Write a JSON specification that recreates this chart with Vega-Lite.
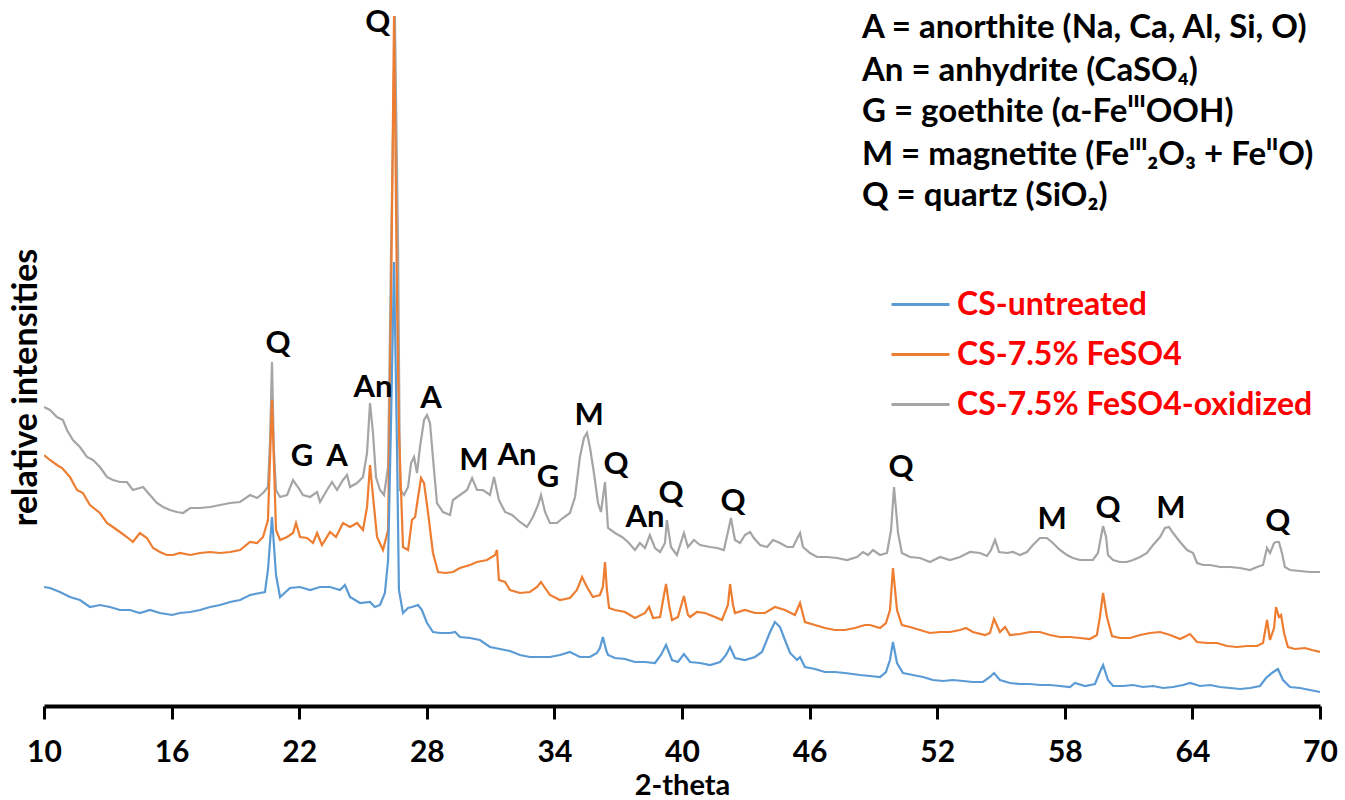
{
"$schema": "https://vega.github.io/schema/vega-lite/v6.json",
"width": 1276, "height": 690,
"autosize": {"type": "none"},
"padding": {"left": 44, "top": 16, "right": 25, "bottom": 94},
"background": "white",
"config": {"view": {"stroke": null}, "font": "Lato"},
"datasets": {
"oxidized": [
{"t":10.00,"i":299},{"t":10.28,"i":296},{"t":10.61,"i":289},{"t":10.89,"i":286},{"t":11.08,"i":276},{"t":11.36,"i":266},{"t":11.69,"i":259},{"t":12.02,"i":249},{"t":12.30,"i":246},{"t":12.63,"i":239},{"t":12.96,"i":229},{"t":13.24,"i":226},{"t":13.57,"i":224},{"t":13.90,"i":224},{"t":14.18,"i":216},{"t":14.66,"i":219},{"t":14.98,"i":211},{"t":15.31,"i":203},{"t":15.60,"i":199},{"t":15.92,"i":196},{"t":16.25,"i":194},{"t":16.54,"i":193},{"t":16.87,"i":198},{"t":17.34,"i":198},{"t":17.81,"i":199},{"t":18.28,"i":201},{"t":18.75,"i":203},{"t":19.22,"i":204},{"t":19.69,"i":211},{"t":20.02,"i":208},{"t":20.30,"i":213},{"t":20.53,"i":219},{"t":20.63,"i":266},{"t":20.72,"i":344},{"t":20.81,"i":256},{"t":20.91,"i":216},{"t":21.10,"i":209},{"t":21.43,"i":211},{"t":21.71,"i":226},{"t":21.94,"i":219},{"t":22.18,"i":211},{"t":22.51,"i":209},{"t":22.84,"i":214},{"t":22.98,"i":204},{"t":23.31,"i":216},{"t":23.54,"i":224},{"t":23.78,"i":216},{"t":24.06,"i":226},{"t":24.25,"i":231},{"t":24.39,"i":219},{"t":24.72,"i":223},{"t":25.00,"i":229},{"t":25.19,"i":253},{"t":25.33,"i":303},{"t":25.47,"i":273},{"t":25.61,"i":229},{"t":25.80,"i":216},{"t":25.99,"i":211},{"t":26.18,"i":239},{"t":26.32,"i":456},{"t":26.50,"i":690},{"t":26.65,"i":456},{"t":26.74,"i":216},{"t":26.93,"i":211},{"t":27.12,"i":219},{"t":27.26,"i":243},{"t":27.40,"i":249},{"t":27.54,"i":233},{"t":27.68,"i":259},{"t":27.87,"i":286},{"t":28.01,"i":291},{"t":28.15,"i":283},{"t":28.34,"i":236},{"t":28.48,"i":203},{"t":28.76,"i":194},{"t":29.09,"i":191},{"t":29.23,"i":206},{"t":29.56,"i":211},{"t":29.89,"i":216},{"t":30.13,"i":228},{"t":30.36,"i":216},{"t":30.64,"i":216},{"t":30.97,"i":211},{"t":31.16,"i":229},{"t":31.39,"i":206},{"t":31.68,"i":194},{"t":32.01,"i":191},{"t":32.38,"i":184},{"t":32.71,"i":179},{"t":32.99,"i":189},{"t":33.23,"i":201},{"t":33.37,"i":211},{"t":33.56,"i":194},{"t":33.79,"i":183},{"t":34.12,"i":183},{"t":34.40,"i":188},{"t":34.73,"i":193},{"t":34.97,"i":209},{"t":35.20,"i":249},{"t":35.39,"i":268},{"t":35.53,"i":273},{"t":35.67,"i":259},{"t":35.86,"i":233},{"t":36.05,"i":203},{"t":36.19,"i":194},{"t":36.38,"i":224},{"t":36.52,"i":178},{"t":36.85,"i":173},{"t":37.18,"i":169},{"t":37.46,"i":164},{"t":37.79,"i":156},{"t":38.02,"i":163},{"t":38.26,"i":158},{"t":38.49,"i":171},{"t":38.73,"i":158},{"t":38.97,"i":154},{"t":39.20,"i":163},{"t":39.29,"i":186},{"t":39.48,"i":159},{"t":39.76,"i":151},{"t":40.09,"i":173},{"t":40.28,"i":159},{"t":40.56,"i":166},{"t":40.85,"i":161},{"t":41.32,"i":159},{"t":41.65,"i":158},{"t":41.97,"i":156},{"t":42.16,"i":174},{"t":42.30,"i":188},{"t":42.49,"i":166},{"t":42.73,"i":163},{"t":42.96,"i":171},{"t":43.20,"i":174},{"t":43.38,"i":168},{"t":43.67,"i":161},{"t":44.00,"i":159},{"t":44.28,"i":166},{"t":44.61,"i":163},{"t":44.94,"i":159},{"t":45.22,"i":159},{"t":45.45,"i":169},{"t":45.55,"i":173},{"t":45.69,"i":159},{"t":46.02,"i":153},{"t":46.35,"i":149},{"t":46.82,"i":149},{"t":47.29,"i":148},{"t":47.76,"i":146},{"t":48.23,"i":149},{"t":48.51,"i":154},{"t":48.75,"i":151},{"t":48.98,"i":156},{"t":49.31,"i":151},{"t":49.64,"i":153},{"t":49.83,"i":176},{"t":49.97,"i":219},{"t":50.16,"i":173},{"t":50.34,"i":153},{"t":50.72,"i":149},{"t":51.19,"i":148},{"t":51.66,"i":144},{"t":52.13,"i":149},{"t":52.60,"i":146},{"t":53.07,"i":149},{"t":53.54,"i":154},{"t":54.01,"i":153},{"t":54.34,"i":150},{"t":54.53,"i":156},{"t":54.72,"i":166},{"t":54.91,"i":154},{"t":55.28,"i":153},{"t":55.56,"i":154},{"t":55.89,"i":151},{"t":56.22,"i":154},{"t":56.50,"i":161},{"t":56.83,"i":168},{"t":57.16,"i":168},{"t":57.44,"i":163},{"t":57.77,"i":156},{"t":58.10,"i":151},{"t":58.38,"i":148},{"t":58.71,"i":146},{"t":59.04,"i":146},{"t":59.32,"i":146},{"t":59.56,"i":153},{"t":59.70,"i":169},{"t":59.80,"i":180},{"t":59.94,"i":169},{"t":60.03,"i":151},{"t":60.27,"i":146},{"t":60.59,"i":144},{"t":60.92,"i":144},{"t":61.21,"i":146},{"t":61.54,"i":149},{"t":61.86,"i":153},{"t":62.15,"i":161},{"t":62.48,"i":169},{"t":62.71,"i":178},{"t":62.90,"i":179},{"t":63.09,"i":173},{"t":63.42,"i":164},{"t":63.75,"i":156},{"t":64.03,"i":153},{"t":64.22,"i":143},{"t":64.50,"i":141},{"t":64.83,"i":141},{"t":65.30,"i":139},{"t":65.77,"i":139},{"t":66.24,"i":138},{"t":66.71,"i":136},{"t":67.04,"i":139},{"t":67.32,"i":141},{"t":67.51,"i":158},{"t":67.65,"i":153},{"t":67.84,"i":163},{"t":67.93,"i":164},{"t":68.07,"i":164},{"t":68.21,"i":153},{"t":68.35,"i":139},{"t":68.59,"i":136},{"t":69.06,"i":135},{"t":69.53,"i":134},{"t":70.00,"i":134}
],
"feso4": [
{"t":10.00,"i":251},{"t":10.28,"i":246},{"t":10.61,"i":241},{"t":10.85,"i":238},{"t":11.22,"i":229},{"t":11.55,"i":216},{"t":11.83,"i":213},{"t":12.16,"i":201},{"t":12.63,"i":193},{"t":12.96,"i":183},{"t":13.24,"i":179},{"t":13.57,"i":174},{"t":13.90,"i":169},{"t":14.18,"i":164},{"t":14.51,"i":173},{"t":14.84,"i":168},{"t":15.13,"i":158},{"t":15.45,"i":154},{"t":15.78,"i":151},{"t":16.07,"i":151},{"t":16.39,"i":153},{"t":16.87,"i":151},{"t":17.34,"i":153},{"t":17.81,"i":154},{"t":18.28,"i":153},{"t":18.75,"i":154},{"t":19.22,"i":156},{"t":19.69,"i":164},{"t":20.02,"i":163},{"t":20.30,"i":169},{"t":20.53,"i":186},{"t":20.72,"i":306},{"t":20.91,"i":176},{"t":21.10,"i":166},{"t":21.43,"i":169},{"t":21.71,"i":173},{"t":21.85,"i":183},{"t":22.04,"i":169},{"t":22.37,"i":168},{"t":22.65,"i":163},{"t":22.84,"i":173},{"t":23.07,"i":161},{"t":23.45,"i":174},{"t":23.73,"i":169},{"t":24.06,"i":183},{"t":24.39,"i":179},{"t":24.72,"i":183},{"t":25.00,"i":176},{"t":25.19,"i":199},{"t":25.33,"i":241},{"t":25.52,"i":199},{"t":25.66,"i":169},{"t":25.94,"i":156},{"t":26.18,"i":176},{"t":26.32,"i":406},{"t":26.46,"i":690},{"t":26.60,"i":406},{"t":26.69,"i":276},{"t":26.88,"i":159},{"t":27.12,"i":156},{"t":27.30,"i":186},{"t":27.45,"i":189},{"t":27.59,"i":209},{"t":27.73,"i":228},{"t":27.87,"i":223},{"t":28.06,"i":193},{"t":28.29,"i":153},{"t":28.53,"i":134},{"t":28.86,"i":133},{"t":29.23,"i":134},{"t":29.56,"i":138},{"t":30.03,"i":141},{"t":30.36,"i":144},{"t":30.83,"i":146},{"t":31.21,"i":151},{"t":31.30,"i":156},{"t":31.39,"i":126},{"t":31.68,"i":124},{"t":31.91,"i":116},{"t":32.38,"i":113},{"t":32.85,"i":114},{"t":33.18,"i":119},{"t":33.37,"i":124},{"t":33.56,"i":118},{"t":33.79,"i":111},{"t":34.26,"i":106},{"t":34.73,"i":108},{"t":35.06,"i":116},{"t":35.30,"i":129},{"t":35.53,"i":119},{"t":35.81,"i":109},{"t":36.14,"i":111},{"t":36.28,"i":119},{"t":36.38,"i":144},{"t":36.47,"i":116},{"t":36.57,"i":98},{"t":36.85,"i":96},{"t":37.32,"i":94},{"t":37.79,"i":88},{"t":38.26,"i":93},{"t":38.45,"i":99},{"t":38.64,"i":88},{"t":38.97,"i":89},{"t":39.11,"i":106},{"t":39.25,"i":122},{"t":39.39,"i":101},{"t":39.53,"i":86},{"t":39.81,"i":89},{"t":40.09,"i":110},{"t":40.28,"i":91},{"t":40.38,"i":89},{"t":40.70,"i":94},{"t":41.08,"i":93},{"t":41.55,"i":89},{"t":41.88,"i":86},{"t":42.16,"i":101},{"t":42.26,"i":122},{"t":42.40,"i":101},{"t":42.49,"i":93},{"t":42.96,"i":96},{"t":43.43,"i":93},{"t":43.90,"i":93},{"t":44.37,"i":99},{"t":44.84,"i":96},{"t":45.31,"i":91},{"t":45.55,"i":103},{"t":45.78,"i":84},{"t":46.25,"i":81},{"t":46.72,"i":78},{"t":47.19,"i":76},{"t":47.66,"i":76},{"t":48.13,"i":78},{"t":48.60,"i":81},{"t":48.84,"i":81},{"t":49.31,"i":78},{"t":49.59,"i":83},{"t":49.78,"i":96},{"t":49.92,"i":138},{"t":50.11,"i":96},{"t":50.34,"i":81},{"t":50.72,"i":79},{"t":51.19,"i":76},{"t":51.66,"i":73},{"t":52.13,"i":74},{"t":52.60,"i":74},{"t":53.07,"i":76},{"t":53.35,"i":78},{"t":53.68,"i":74},{"t":54.25,"i":71},{"t":54.48,"i":73},{"t":54.67,"i":87},{"t":54.95,"i":74},{"t":55.19,"i":79},{"t":55.42,"i":71},{"t":55.89,"i":72},{"t":56.36,"i":74},{"t":56.83,"i":74},{"t":57.30,"i":71},{"t":57.77,"i":69},{"t":58.24,"i":69},{"t":58.71,"i":68},{"t":59.18,"i":67},{"t":59.51,"i":71},{"t":59.65,"i":89},{"t":59.80,"i":113},{"t":59.98,"i":89},{"t":60.22,"i":70},{"t":60.59,"i":68},{"t":61.07,"i":68},{"t":61.54,"i":71},{"t":62.01,"i":73},{"t":62.48,"i":74},{"t":62.95,"i":71},{"t":63.42,"i":67},{"t":63.89,"i":72},{"t":64.22,"i":64},{"t":64.69,"i":63},{"t":65.16,"i":63},{"t":65.63,"i":60},{"t":66.10,"i":59},{"t":66.57,"i":60},{"t":67.04,"i":60},{"t":67.32,"i":63},{"t":67.51,"i":86},{"t":67.65,"i":66},{"t":67.84,"i":78},{"t":67.93,"i":99},{"t":68.07,"i":89},{"t":68.17,"i":91},{"t":68.31,"i":73},{"t":68.49,"i":59},{"t":68.82,"i":57},{"t":69.29,"i":58},{"t":69.62,"i":56},{"t":70.00,"i":54}
],
"untreated": [
{"t":10.00,"i":119},{"t":10.28,"i":118},{"t":10.75,"i":114},{"t":11.22,"i":109},{"t":11.69,"i":106},{"t":12.16,"i":99},{"t":12.63,"i":101},{"t":13.10,"i":99},{"t":13.57,"i":96},{"t":14.04,"i":96},{"t":14.51,"i":93},{"t":14.98,"i":96},{"t":15.45,"i":93},{"t":16.02,"i":91},{"t":16.39,"i":93},{"t":16.87,"i":94},{"t":17.34,"i":96},{"t":17.81,"i":99},{"t":18.28,"i":101},{"t":18.75,"i":104},{"t":19.22,"i":106},{"t":19.69,"i":111},{"t":20.16,"i":113},{"t":20.39,"i":114},{"t":20.53,"i":136},{"t":20.72,"i":189},{"t":20.91,"i":131},{"t":21.10,"i":109},{"t":21.57,"i":118},{"t":22.04,"i":119},{"t":22.51,"i":116},{"t":22.98,"i":119},{"t":23.45,"i":119},{"t":23.92,"i":116},{"t":24.15,"i":121},{"t":24.39,"i":109},{"t":24.86,"i":103},{"t":25.33,"i":104},{"t":25.56,"i":99},{"t":25.80,"i":101},{"t":26.03,"i":113},{"t":26.18,"i":146},{"t":26.32,"i":286},{"t":26.46,"i":444},{"t":26.60,"i":256},{"t":26.69,"i":116},{"t":26.88,"i":93},{"t":27.12,"i":98},{"t":27.30,"i":99},{"t":27.59,"i":101},{"t":27.77,"i":96},{"t":28.01,"i":83},{"t":28.29,"i":74},{"t":28.62,"i":73},{"t":29.09,"i":73},{"t":29.33,"i":74},{"t":29.56,"i":69},{"t":30.03,"i":68},{"t":30.50,"i":66},{"t":30.97,"i":59},{"t":31.44,"i":57},{"t":31.91,"i":55},{"t":32.38,"i":51},{"t":32.85,"i":49},{"t":33.32,"i":49},{"t":33.79,"i":49},{"t":34.26,"i":51},{"t":34.73,"i":54},{"t":35.20,"i":49},{"t":35.67,"i":49},{"t":36.00,"i":53},{"t":36.14,"i":58},{"t":36.28,"i":69},{"t":36.43,"i":56},{"t":36.52,"i":51},{"t":36.85,"i":48},{"t":37.32,"i":47},{"t":37.79,"i":44},{"t":38.26,"i":44},{"t":38.73,"i":43},{"t":39.01,"i":51},{"t":39.25,"i":61},{"t":39.53,"i":46},{"t":39.81,"i":44},{"t":40.09,"i":52},{"t":40.38,"i":44},{"t":40.85,"i":43},{"t":41.32,"i":41},{"t":41.79,"i":44},{"t":42.07,"i":51},{"t":42.26,"i":59},{"t":42.49,"i":48},{"t":42.96,"i":46},{"t":43.43,"i":49},{"t":43.76,"i":54},{"t":44.14,"i":74},{"t":44.37,"i":84},{"t":44.61,"i":79},{"t":44.84,"i":66},{"t":45.08,"i":53},{"t":45.41,"i":46},{"t":45.55,"i":49},{"t":45.78,"i":39},{"t":46.25,"i":37},{"t":46.72,"i":34},{"t":47.19,"i":34},{"t":47.66,"i":33},{"t":48.37,"i":31},{"t":48.84,"i":30},{"t":49.31,"i":29},{"t":49.59,"i":34},{"t":49.78,"i":46},{"t":49.92,"i":64},{"t":50.11,"i":43},{"t":50.39,"i":33},{"t":50.86,"i":31},{"t":51.33,"i":29},{"t":51.80,"i":26},{"t":52.27,"i":25},{"t":52.74,"i":26},{"t":53.21,"i":25},{"t":53.68,"i":24},{"t":54.15,"i":24},{"t":54.48,"i":29},{"t":54.67,"i":33},{"t":54.95,"i":26},{"t":55.42,"i":23},{"t":55.89,"i":22},{"t":56.36,"i":22},{"t":56.83,"i":21},{"t":57.30,"i":21},{"t":57.77,"i":20},{"t":58.24,"i":19},{"t":58.48,"i":23},{"t":58.95,"i":20},{"t":59.42,"i":22},{"t":59.65,"i":34},{"t":59.80,"i":41},{"t":60.03,"i":26},{"t":60.27,"i":20},{"t":60.74,"i":20},{"t":61.21,"i":21},{"t":61.68,"i":19},{"t":62.15,"i":20},{"t":62.62,"i":18},{"t":63.09,"i":19},{"t":63.56,"i":21},{"t":63.89,"i":23},{"t":64.36,"i":20},{"t":64.83,"i":21},{"t":65.30,"i":19},{"t":65.77,"i":18},{"t":66.24,"i":17},{"t":66.71,"i":18},{"t":67.18,"i":20},{"t":67.46,"i":28},{"t":67.74,"i":33},{"t":68.02,"i":37},{"t":68.26,"i":26},{"t":68.59,"i":19},{"t":69.06,"i":18},{"t":69.53,"i":16},{"t":70.00,"i":14}
],
"peaks": [
{"t":25.70,"i":683,"label":"Q"},{"t":21.00,"i":362,"label":"Q"},{"t":22.13,"i":249,"label":"G"},{"t":23.78,"i":249,"label":"A"},{"t":25.47,"i":318,"label":"An"},{"t":28.20,"i":307,"label":"A"},{"t":30.22,"i":245,"label":"M"},{"t":32.24,"i":250,"label":"An"},{"t":33.70,"i":228,"label":"G"},{"t":35.63,"i":290,"label":"M"},{"t":36.90,"i":241,"label":"Q"},{"t":38.26,"i":188,"label":"An"},{"t":39.48,"i":212,"label":"Q"},{"t":42.40,"i":204,"label":"Q"},{"t":50.30,"i":238,"label":"Q"},{"t":57.40,"i":186,"label":"M"},{"t":60.03,"i":197,"label":"Q"},{"t":62.99,"i":197,"label":"M"},{"t":68.02,"i":184,"label":"Q"}
],
"key": [
{"t":48.46,"i":678,"label":"A = anorthite (Na, Ca, Al, Si, O)"},
{"t":48.46,"i":635,"label":"An = anhydrite (CaSO₄)"},
{"t":48.46,"i":594,"label":"G = goethite (α-FeᴵᴵᴵOOH)"},
{"t":48.46,"i":551,"label":"M = magnetite (Feᴵᴵᴵ₂O₃ + FeᴵᴵO)"},
{"t":48.46,"i":510,"label":"Q = quartz (SiO₂)"}
]
},
"layer": [
{"data": {"name": "oxidized"},
 "mark": {"type": "line", "strokeWidth": 2.2, "clip": true},
 "encoding": {
  "x": {"field": "t", "type": "quantitative",
        "scale": {"domain": [10, 70], "nice": false, "zero": false},
        "axis": {"title": "2-theta", "values": [10,16,22,28,34,40,46,52,58,64,70], "grid": false,
                 "domainColor": "black", "domainWidth": 4, "tickColor": "black", "tickWidth": 3, "tickSize": 13,
                 "labelFont": "Lato", "labelFontSize": 30, "labelFontWeight": "bold", "labelColor": "black",
                 "labelPadding": 18, "labelFlush": false, "labelOverlap": false,
                 "titleFont": "Lato", "titleFontSize": 29, "titleFontWeight": "bold", "titleColor": "black",
                 "titleY": 88, "titleBaseline": "alphabetic"}},
  "y": {"field": "i", "type": "quantitative",
        "scale": {"domain": [0, 690], "nice": false, "zero": false},
        "axis": {"title": "relative intensities", "domain": false, "ticks": false, "labels": false, "grid": false,
                 "titleFont": "Lato", "titleFontSize": 34, "titleFontWeight": "bold", "titleColor": "black",
                 "titleAngle": -90, "titleX": -18, "titleY": 371, "titleAlign": "center", "titleBaseline": "middle"}},
  "color": {"datum": "CS-7.5% FeSO4-oxidized", "type": "nominal",
            "scale": {"domain": ["CS-untreated", "CS-7.5% FeSO4", "CS-7.5% FeSO4-oxidized"], "range": ["#5B9BD5", "#ED7D31", "#A5A5A5"]},
            "legend": {"orient": "none", "legendX": 846, "legendY": 258, "title": null, "padding": 0,
                       "symbolType": "stroke", "symbolSize": 3364, "symbolStrokeWidth": 3,
                       "labelFont": "Lato", "labelFontSize": 32, "labelFontWeight": "bold", "labelColor": "#FF0000",
                       "labelOffset": 6, "rowPadding": 3, "labelLimit": 600}}
 }},
{"data": {"name": "feso4"},
 "mark": {"type": "line", "strokeWidth": 2.2, "clip": true},
 "encoding": {
  "x": {"field": "t", "type": "quantitative"},
  "y": {"field": "i", "type": "quantitative"},
  "color": {"datum": "CS-7.5% FeSO4", "type": "nominal"}
 }},
{"data": {"name": "untreated"},
 "mark": {"type": "line", "strokeWidth": 2.2, "clip": true},
 "encoding": {
  "x": {"field": "t", "type": "quantitative"},
  "y": {"field": "i", "type": "quantitative"},
  "color": {"datum": "CS-untreated", "type": "nominal"}
 }},
{"data": {"name": "peaks"},
 "mark": {"type": "text", "font": "Lato", "fontSize": 31, "fontWeight": "bold", "color": "black", "align": "center", "baseline": "middle"},
 "encoding": {
  "x": {"field": "t", "type": "quantitative"},
  "y": {"field": "i", "type": "quantitative"},
  "text": {"field": "label", "type": "nominal"}
 }},
{"data": {"name": "key"},
 "mark": {"type": "text", "font": "Lato", "fontSize": 33, "fontWeight": "bold", "color": "black", "align": "left", "baseline": "middle"},
 "encoding": {
  "x": {"field": "t", "type": "quantitative"},
  "y": {"field": "i", "type": "quantitative"},
  "text": {"field": "label", "type": "nominal"}
 }}
]
}
